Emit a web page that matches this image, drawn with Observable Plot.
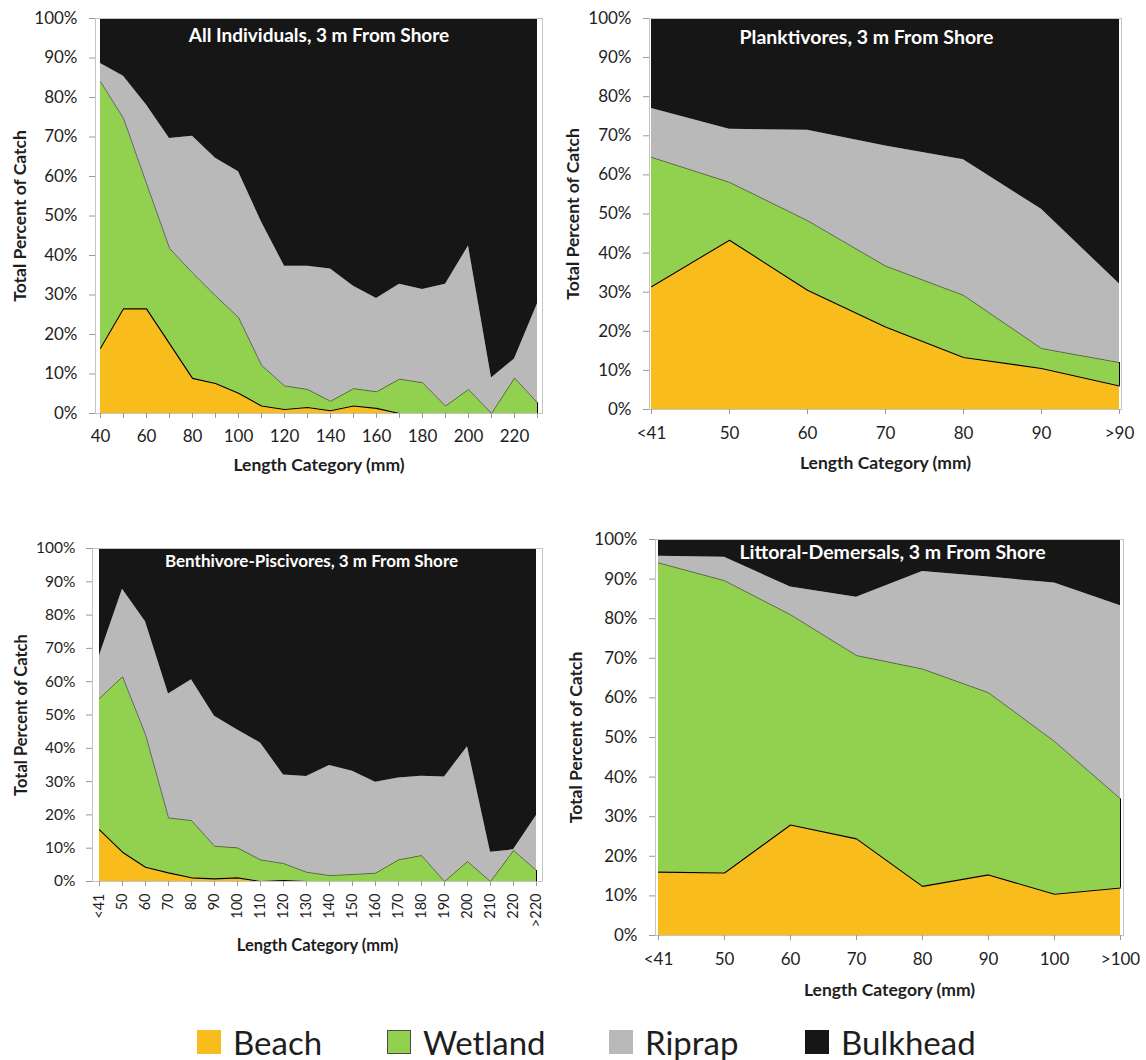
<!DOCTYPE html>
<html><head><meta charset="utf-8">
<script src="https://cdn.jsdelivr.net/npm/d3@7"></script>
<script src="https://cdn.jsdelivr.net/npm/@observablehq/plot@0.6"></script>
<style>
body{margin:0;background:#fff;font-family:Lato,"Open Sans",sans-serif;}
#wrap{position:relative;width:1146px;height:1060px;}
.panel{position:absolute;}
.lg{position:absolute;top:1024px;height:36px;display:flex;align-items:center;font-size:33px;line-height:36px;color:#1e1e1e;}
.lg .sw{width:24px;height:24px;margin-right:12px;box-sizing:border-box;}
</style></head><body><div id="wrap"></div>
<script>
const habitats = ["Beach","Wetland","Riprap","Bulkhead"];
const colors = ["#F8BC1C","#92D050","#B9B9B9","#161616"];
const yTicks = [0,10,20,30,40,50,60,70,80,90,100];

// Panel 1: All Individuals
const allCats = ["40","50","60","70","80","90","100","110","120","130","140","150","160","170","180","190","200","210","220","230"];
const allBeach    = [16.5,26.5,26.5,17.7,8.9,7.6,5.1,1.9,1.0,1.5,0.7,1.9,1.3,0,0,0,0,0,0,0];
const allWetland  = [67.5,48.2,31.7,24.1,26.7,22.2,19.2,10.3,6.0,4.6,2.4,4.4,4.2,8.7,7.8,1.9,6.1,0,9.0,2.7];
const allRiprap   = [4.6,10.7,19.9,27.8,34.6,34.8,36.9,36.3,30.3,31.2,33.5,25.9,23.6,24.0,23.6,30.8,36.3,9.0,4.8,25.1];
const allBulkhead = [11.4,14.6,21.9,30.4,29.8,35.4,38.8,51.5,62.7,62.7,63.4,67.8,70.9,67.3,68.6,67.3,57.6,91.0,86.2,72.2];

// Panel 2: Planktivores
const plaCats = ["<41","50","60","70","80","90",">90"];
const plaBeach    = [31.4,43.3,30.5,21.1,13.3,10.5,6.0];
const plaWetland  = [33.1,14.8,17.8,15.6,15.9,5.1,6.0];
const plaRiprap   = [12.5,13.6,23.1,30.7,34.7,35.6,20.1];
const plaBulkhead = [23.0,28.3,28.6,32.6,36.1,48.8,67.9];

// Panel 3: Benthivore-Piscivores
const benCats = ["<41","50","60","70","80","90","100","110","120","130","140","150","160","170","180","190","200","210","220",">220"];
const benBeach    = [15.5,8.8,4.3,2.6,1.1,0.8,1.1,0,0.3,0,0,0,0,0,0,0,0,0,0,0];
const benWetland  = [39.5,52.7,39.8,16.5,17.2,9.8,9.0,6.5,5.1,2.8,1.8,2.1,2.5,6.5,7.8,0,6.0,0,9.3,3.3];
const benRiprap   = [12.8,26.3,33.9,37.2,42.3,39.0,35.4,35.1,26.6,28.7,33.0,31.0,27.3,24.6,23.8,31.4,34.5,8.8,0.2,16.5];
const benBulkhead = [32.2,12.2,22.0,43.7,39.4,50.4,54.5,58.4,68.0,68.5,65.2,66.9,70.2,68.9,68.4,68.6,59.5,91.2,90.5,80.2];

// Panel 4: Littoral-Demersals
const litCats = ["<41","50","60","70","80","90","100",">100"];
const litBeach    = [16.0,15.8,27.9,24.4,12.4,15.3,10.4,12.0];
const litWetland  = [78.1,73.8,53.1,46.3,54.9,46.0,38.6,22.5];
const litRiprap   = [1.7,5.9,7.0,14.7,24.6,29.2,40.0,48.8];
const litBulkhead = [4.2,4.5,12.0,14.6,8.1,9.5,11.0,16.7];

function stackRows(cats, series){
  const rows = [];
  cats.forEach((c,i)=>{
    let cum = 0;
    habitats.forEach((h,k)=>{
      const v = series[k][i];
      rows.push({cat:c, habitat:h, y1:cum, y2:cum+v});
      cum += v;
    });
  });
  return rows;
}

function panel(o){
  const rows = stackRows(o.cats, o.series);
  const last = o.cats[o.cats.length-1];
  const lastRows = rows.filter(d=>d.cat===last && d.habitat==="Wetland");
  const svg = Plot.plot({
    width:o.width, height:o.height,
    marginLeft:o.ml, marginRight:o.mr, marginTop:o.mt, marginBottom:o.mb,
    style:{fontFamily:"Lato, 'Open Sans', sans-serif", color:"#1e1e1e", background:"transparent"},
    x:{type:"point", domain:o.cats, padding:0},
    y:{domain:[0,100]},
    color:{domain:habitats, range:colors},
    marks:[
      Plot.areaY(rows, {x:"cat", y1:"y1", y2:"y2", fill:"habitat", z:"habitat", fillOpacity:1}),
      Plot.lineY(rows.filter(d=>d.habitat==="Wetland"), {x:"cat", y:"y2", stroke:"#3a3a3a", strokeWidth:0.7}),
      Plot.lineY(rows.filter(d=>d.habitat==="Beach"), {x:"cat", y:"y2", stroke:"#000", strokeWidth:1.1}),
      Plot.ruleX(lastRows, {x:"cat", y1:"y1", y2:"y2", stroke:"#000", strokeWidth:1}),
      Plot.frame({stroke:"#c4c4c4"}),
      Plot.axisY(yTicks, {tickSize:6, tickPadding:o.yPad, fontSize:o.fs, tickFormat:d=>d+"%", stroke:"#9a9a9a", label:null}),
      Plot.axisX({tickSize:5, tickPadding:o.xPad, fontSize:o.xfs||o.fs, tickFormat:o.xfmt||(d=>d), tickRotate:o.rot||0, stroke:"#9a9a9a", label:null}),
      Plot.text([o.title], {text:d=>d, frameAnchor:"top", dx:o.tdx||0, dy:o.tdy, lineAnchor:"middle", fill:"#fff", fontWeight:"bold", fontSize:o.tfs}),
      Plot.text(["Total Percent of Catch"], {text:d=>d, frameAnchor:"left", dx:o.ydx, rotate:-90, textAnchor:"middle", lineAnchor:"middle", fontWeight:"bold", fontSize:o.lfs}),
      Plot.text(["Length Category (mm)"], {text:d=>d, frameAnchor:"bottom", dy:o.xdy, lineAnchor:"middle", fontWeight:"bold", fontSize:o.lfs})
    ]
  });
  const div = document.createElement("div");
  div.className = "panel";
  div.style.left = o.left+"px"; div.style.top = o.top+"px";
  div.appendChild(svg);
  document.getElementById("wrap").appendChild(div);
}

panel({cats:allCats, series:[allBeach,allWetland,allRiprap,allBulkhead], title:"All Individuals, 3 m From Shore",
  left:0, top:0, width:560, height:480, ml:95, mr:18, mt:18, mb:67, fs:17, yPad:12, xPad:11,
  xfmt:d=>(+d%20===0?d:""), tdy:17, tfs:19, ydx:-75, xdy:52, lfs:17.5});

panel({cats:plaCats, series:[plaBeach,plaWetland,plaRiprap,plaBulkhead], title:"Planktivores, 3 m From Shore",
  left:560, top:0, width:586, height:480, ml:89, mr:25, mt:18, mb:71, fs:17, yPad:12, xPad:12,
  tdx:-19, tdy:19, tfs:19.5, ydx:-76, xdy:54, lfs:17.5});

panel({cats:benCats, series:[benBeach,benWetland,benRiprap,benBulkhead], title:"Benthivore-Piscivores, 3 m From Shore",
  left:0, top:520, width:560, height:440, ml:92, mr:18, mt:28, mb:79, fs:15.5, xfs:14.5, yPad:11, xPad:7, rot:-90,
  tdx:-6, tdy:13, tfs:17, ydx:-71, xdy:64, lfs:16.5});

panel({cats:litCats, series:[litBeach,litWetland,litRiprap,litBulkhead], title:"Littoral-Demersals, 3 m From Shore",
  left:560, top:520, width:586, height:490, ml:95, mr:23, mt:19, mb:75, fs:17, yPad:12, xPad:12,
  tdx:3, tdy:13, tfs:19.5, ydx:-79, xdy:55, lfs:17.5});

// legend
const legendX = [197,387,609,805];
habitats.forEach((h,i)=>{
  const d = document.createElement("div");
  d.className = "lg";
  d.style.left = legendX[i]+"px";
  const sw = document.createElement("div");
  sw.className = "sw";
  sw.style.background = colors[i];
  if (h==="Wetland") sw.style.border = "1.5px solid #4a4a4a";
  const t = document.createElement("span");
  t.textContent = h;
  d.appendChild(sw); d.appendChild(t);
  document.getElementById("wrap").appendChild(d);
});
</script></body></html>
